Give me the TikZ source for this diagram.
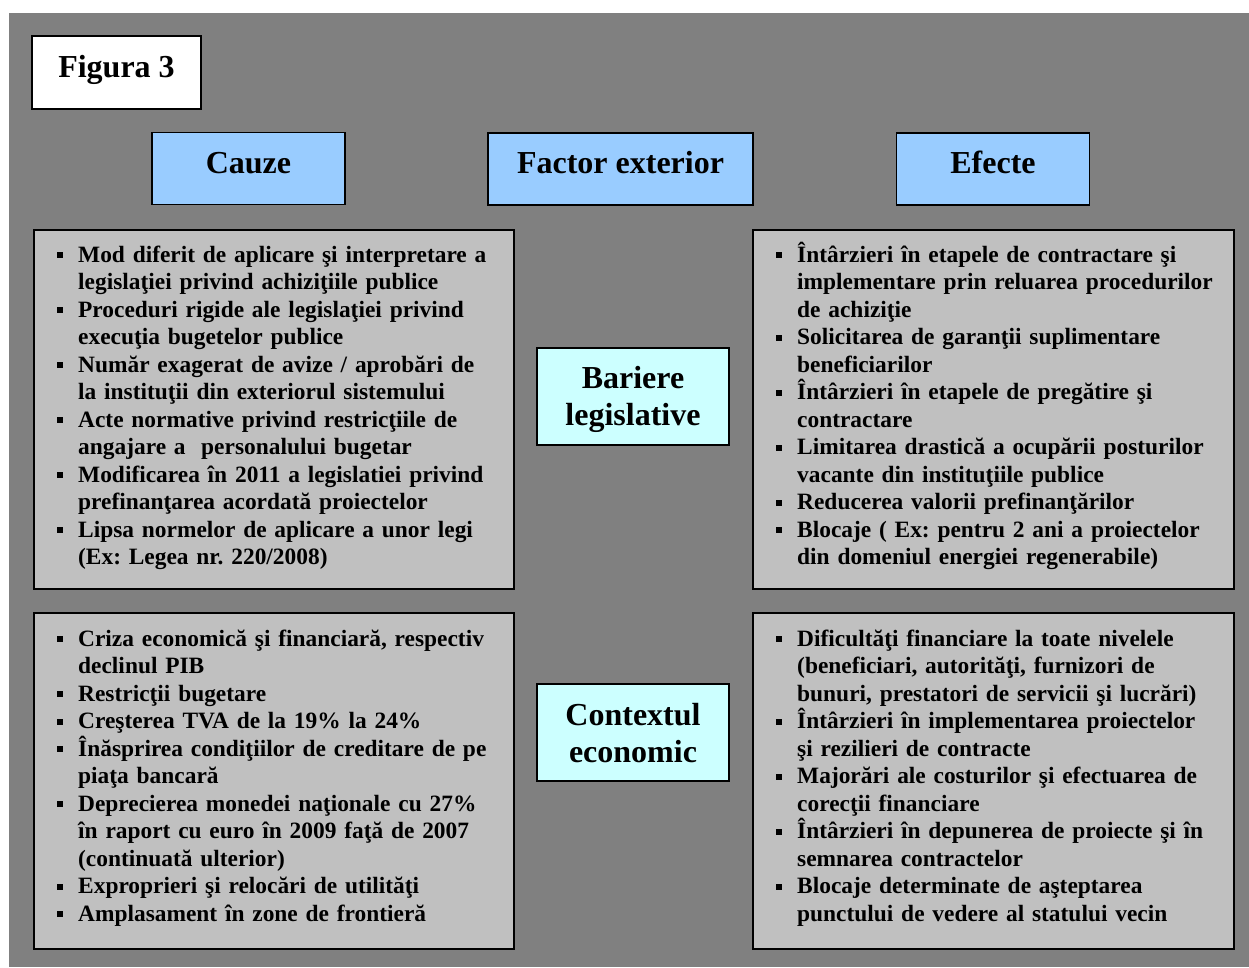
\documentclass[tikz,border=0pt]{standalone}
\usepackage{fontspec}
\setmainfont{Liberation Serif}
\usetikzlibrary{positioning}

\definecolor{fundal}{RGB}{128,128,128}
\definecolor{gricaseta}{RGB}{192,192,192}
\definecolor{albastru}{RGB}{153,204,255}
\definecolor{turcoaz}{RGB}{204,255,255}

% marcaj de lista si indentare
\newcommand{\bl}{\makebox[21pt][l]{\rule[4pt]{6pt}{6pt}}}
\newcommand{\ind}{\hspace*{21pt}}
\newcommand{\doualinii}[2]{\rule{0pt}{29pt}#1\\#2\rule[-7pt]{0pt}{7pt}}

\tikzset{
  antet/.style={draw, line width=1.8pt, fill=albastru, inner sep=0pt,
    minimum width=193pt, minimum height=72pt, text height=22pt, text depth=13pt,
    font=\fontsize{32}{37}\selectfont\bfseries},
  factor/.style={draw, line width=1.8pt, fill=turcoaz, inner sep=0pt, align=center,
    minimum width=192pt, minimum height=97pt,
    font=\fontsize{32}{37}\selectfont\bfseries},
  caseta/.style={draw, line width=1.8pt, fill=gricaseta, inner sep=0pt,
    anchor=north west, minimum width=480pt},
  lista/.style={anchor=north west, inner sep=0pt, align=left, text width=470pt,
    font=\fontsize{23.4}{27.5}\selectfont\bfseries\frenchspacing},
}

\begin{document}
\begin{tikzpicture}[x=1pt,y=-1pt]
  \useasboundingbox (0,0) rectangle (1249,967);
  % fundal
  \fill[fundal] (9,13) rectangle (1249,967);

  %%% TITLU
  \node[antet, fill=white, minimum width=169pt, minimum height=73pt] at (116.5,72.5) (figura) {Figura 3};

  %%% ANTETE
  \node[antet] at (248.5,168.5) (cauze) {Cauze};
  \node[antet, minimum width=265pt] at (620.5,169) (factor) {Factor exterior};
  \node[antet] at (993,169) (efecte) {Efecte};

  %%% FACTORI
  \node[factor] at (633,396.5) (bariere) {\doualinii{Bariere}{legislative}};
  \node[factor] at (633,732.5) (context) {\doualinii{Contextul}{economic}};

  %%% CASETE
  \node[caseta, minimum height=359pt] at (33,229) (cauzeLeg) {};
  \node[caseta, minimum height=359pt, minimum width=481pt] at (752,229) (efecteLeg) {};
  \node[caseta, minimum height=336pt] at (33,612) (cauzeEc) {};
  \node[caseta, minimum height=336pt, minimum width=481pt] at (752,612) (efecteEc) {};

  %cauze - bariere legislative
  \node[lista] at ([xshift=24pt,yshift=-11pt]cauzeLeg.north west) (txtCauzeLeg) {\rule{0pt}{22pt}%
    \bl Mod diferit de aplicare şi interpretare a\\
    \ind legislaţiei privind achiziţiile publice\\
    \bl Proceduri rigide ale legislaţiei privind\\
    \ind execuţia bugetelor publice\\
    \bl Număr exagerat de avize / aprobări de\\
    \ind la instituţii din exteriorul sistemului\\
    \bl Acte normative privind restricţiile de\\
    \ind angajare a~ personalului bugetar\\
    \bl Modificarea în 2011 a legislatiei privind\\
    \ind prefinanţarea acordată proiectelor\\
    \bl Lipsa normelor de aplicare a unor legi\\
    \ind (Ex: Legea nr. 220/2008)};
  %efecte - bariere legislative
  \node[lista] at ([xshift=24pt,yshift=-11pt]efecteLeg.north west) (txtEfecteLeg) {\rule{0pt}{22pt}%
    \bl Întârzieri în etapele de contractare şi\\
    \ind implementare prin reluarea procedurilor\\
    \ind de achiziţie\\
    \bl Solicitarea de garanţii suplimentare\\
    \ind beneficiarilor\\
    \bl Întârzieri în etapele de pregătire şi\\
    \ind contractare\\
    \bl Limitarea drastică a ocupării posturilor\\
    \ind vacante din instituţiile publice\\
    \bl Reducerea valorii prefinanţărilor\\
    \bl Blocaje ( Ex: pentru 2 ani a proiectelor\\
    \ind din domeniul energiei regenerabile)};
  %cauze - context economic
  \node[lista] at ([xshift=24pt,yshift=-12pt]cauzeEc.north west) (txtCauzeEc) {\rule{0pt}{22pt}%
    \bl Criza economică şi financiară, respectiv\\
    \ind declinul PIB\\
    \bl Restricţii bugetare\\
    \bl Creşterea TVA de la 19\% la 24\%\\
    \bl Înăsprirea condiţiilor de creditare de pe\\
    \ind piaţa bancară\\
    \bl Deprecierea monedei naţionale cu 27\%\\
    \ind în raport cu euro în 2009 faţă de 2007\\
    \ind (continuată ulterior)\\
    \bl Exproprieri şi relocări de utilităţi\\
    \bl Amplasament în zone de frontieră};
  %efecte - context economic
  \node[lista] at ([xshift=24pt,yshift=-12pt]efecteEc.north west) (txtEfecteEc) {\rule{0pt}{22pt}%
    \bl Dificultăţi financiare la toate nivelele\\
    \ind (beneficiari, autorităţi, furnizori de\\
    \ind bunuri, prestatori de servicii şi lucrări)\\
    \bl Întârzieri în implementarea proiectelor\\
    \ind şi rezilieri de contracte\\
    \bl Majorări ale costurilor şi efectuarea de\\
    \ind corecţii financiare\\
    \bl Întârzieri în depunerea de proiecte şi în\\
    \ind semnarea contractelor\\
    \bl Blocaje determinate de aşteptarea\\
    \ind punctului de vedere al statului vecin};
\end{tikzpicture}
\end{document}
